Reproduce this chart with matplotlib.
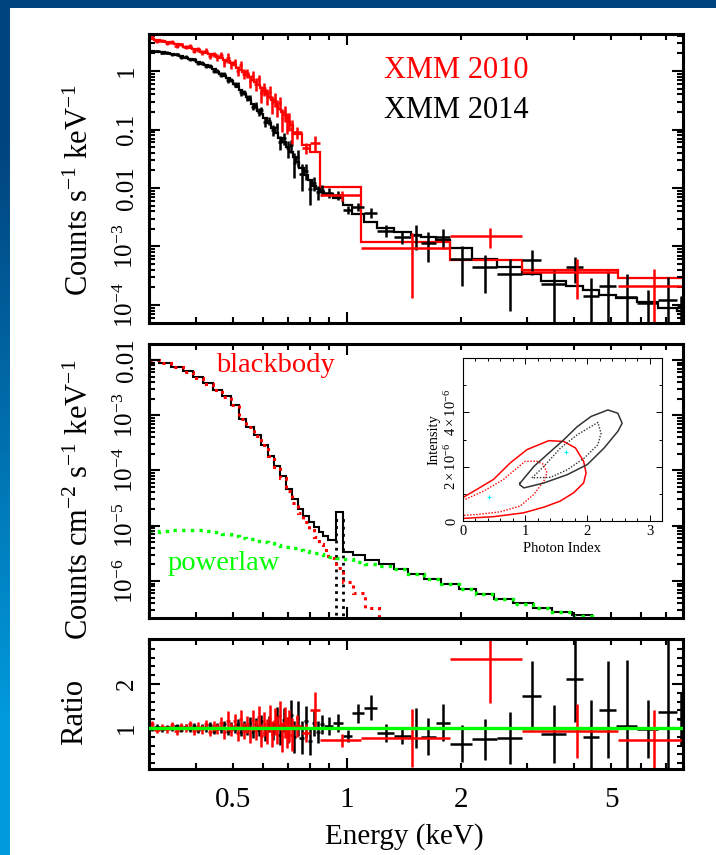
import numpy as np
import matplotlib
matplotlib.use("Agg")
import matplotlib.pyplot as plt
from matplotlib.ticker import LogLocator, NullFormatter, MultipleLocator
from matplotlib.colors import LinearSegmentedColormap
from matplotlib.patches import Rectangle

plt.rcParams['font.family'] = ['Liberation Serif', 'DejaVu Serif']
plt.rcParams['mathtext.fontset'] = 'custom'
plt.rcParams['mathtext.rm'] = 'Liberation Serif'
plt.rcParams['mathtext.it'] = 'Liberation Serif:italic'

RED = '#ff0000'
GREEN = '#00ff00'
CYAN = '#00ffff'

# ---------------- XMM 2014 (black): fine bins < 0.87 keV, wide bins above
b14_edges = [0.30, 0.31, 0.32, 0.33, 0.34, 0.35, 0.36, 0.37, 0.38, 0.39, 0.40,
             0.41, 0.42, 0.43, 0.44, 0.45, 0.46, 0.47, 0.48, 0.49, 0.50,
             0.51, 0.52, 0.53, 0.54, 0.55, 0.56, 0.57, 0.58, 0.59, 0.60,
             0.615, 0.63, 0.645, 0.66, 0.675, 0.69, 0.705, 0.72, 0.735, 0.75,
             0.77, 0.79, 0.81, 0.83, 0.85, 0.87,
             0.92, 0.98, 1.035, 1.11, 1.205, 1.33, 1.475, 1.57, 1.72, 1.88,
             2.15, 2.50, 2.90, 3.27, 3.80, 4.22, 4.65, 5.15, 5.85, 6.66, 7.48, 7.80]
b14_model = [2.2, 2.15, 2.1, 2.02, 1.95, 1.87, 1.79, 1.7, 1.61, 1.52,
             1.43, 1.34, 1.25, 1.16, 1.07, 0.98, 0.9, 0.82, 0.75, 0.68,
             0.61, 0.54, 0.47, 0.41, 0.36, 0.315, 0.275, 0.24, 0.21, 0.185,
             0.155, 0.128, 0.105, 0.087, 0.072, 0.06, 0.05, 0.041, 0.034, 0.028,
             0.022, 0.017, 0.0135, 0.011, 0.0095, 0.0085,
             7.9e-3, 6.8e-3, 5.2e-3, 3.6e-3, 2.6e-3, 2.1e-3, 1.75e-3, 1.6e-3,
             1.45e-3, 1.3e-3, 9.5e-4, 6.0e-4, 4.4e-4, 3.4e-4, 2.6e-4, 2.1e-4,
             1.8e-4, 1.5e-4, 1.3e-4, 1.1e-4, 9.0e-5, 8.0e-5]
b14_ratio = [0.98, 1.03, 0.97, 1.02, 0.99, 1.04, 0.96, 1.03, 0.98, 1.05,
             0.95, 1.02, 0.99, 1.06, 0.94, 1.04, 0.97, 1.08, 0.93, 1.05,
             0.98, 1.10, 0.92, 1.06, 0.96, 1.12, 0.90, 1.08, 0.95, 1.15,
             0.88, 1.10, 0.93, 1.25, 0.85, 1.18, 0.95, 1.30, 0.80, 1.22,
             0.78, 1.15, 0.70, 1.12, 0.90, 1.08,
             1.05, 1.12, 0.82, 1.33, 1.46, 0.89, 0.82, 1.00, 0.80, 1.12,
             0.64, 0.74, 0.77, 1.73, 0.86, 2.11, 0.79, 1.41, 1.05, 0.98, 1.37, 1.20]
b14_rerr = [0.05, 0.05, 0.05, 0.05, 0.05, 0.06, 0.06, 0.06, 0.06, 0.06,
            0.07, 0.07, 0.07, 0.07, 0.08, 0.08, 0.08, 0.09, 0.09, 0.09,
            0.10, 0.10, 0.11, 0.11, 0.12, 0.12, 0.13, 0.14, 0.14, 0.15,
            0.17, 0.18, 0.20, 0.22, 0.24, 0.27, 0.30, 0.33, 0.36, 0.40,
            0.38, 0.36, 0.32, 0.30, 0.25, 0.22,
            0.20, 0.20, 0.13, 0.22, 0.28, 0.20, 0.18, 0.45, 0.42, 0.42,
            0.42, 0.47, 0.59, 0.78, 0.66, 0.98, 0.84, 1.10, 1.50, 0.65, 2.00, 0.60]

# ---------------- XMM 2010 (red)
r10_edges = [0.30, 0.31, 0.32, 0.33, 0.34, 0.35, 0.36, 0.37, 0.38, 0.39, 0.40,
             0.41, 0.42, 0.43, 0.44, 0.45, 0.46, 0.47, 0.48, 0.49, 0.50,
             0.51, 0.52, 0.53, 0.54, 0.55, 0.56, 0.57, 0.58, 0.59, 0.60,
             0.61, 0.62, 0.63, 0.64, 0.65, 0.66, 0.67, 0.68, 0.69, 0.70,
             0.71, 0.72, 0.76, 0.80, 0.85, 1.09, 1.88, 2.91, 5.23, 7.80]
r10_model = [3.55, 3.4, 3.25, 3.1, 3.0, 2.88, 2.75, 2.62, 2.5, 2.38,
             2.27, 2.16, 2.05, 1.95, 1.85, 1.76, 1.67, 1.57, 1.46, 1.35,
             1.25, 1.15, 1.05, 0.96, 0.87, 0.79, 0.71, 0.64, 0.575, 0.515,
             0.46, 0.41, 0.365, 0.325, 0.29, 0.255, 0.225, 0.198, 0.175, 0.155,
             0.135, 0.118,
             0.085, 0.055, 0.042, 0.0105, 1.2e-3, 5.9e-4, 4.0e-4, 2.9e-4]
r10_ratio = [1.10, 0.95, 1.02, 0.97, 1.06, 0.93, 1.04, 0.99, 1.08, 0.94,
             1.03, 0.97, 1.09, 0.92, 1.05, 0.98, 1.12, 0.90, 1.16, 0.96,
             1.15, 0.88, 1.20, 0.93, 1.08, 0.85, 1.18, 0.95, 1.25, 0.82,
             1.10, 0.92, 1.22, 0.86, 1.15, 0.95, 1.28, 0.80, 1.12, 0.90,
             1.05, 0.85,
             1.05, 0.88, 1.40, 0.72, 0.77, 2.57, 0.93, 0.72]
r10_rerr = [0.07, 0.07, 0.07, 0.08, 0.08, 0.08, 0.08, 0.09, 0.09, 0.09,
            0.10, 0.10, 0.10, 0.11, 0.11, 0.12, 0.13, 0.14, 0.22, 0.15,
            0.16, 0.17, 0.20, 0.18, 0.19, 0.20, 0.22, 0.23, 0.25, 0.26,
            0.27, 0.28, 0.30, 0.30, 0.31, 0.32, 0.33, 0.34, 0.35, 0.35,
            0.36, 0.37,
            0.25, 0.20, 0.42, 0.14, 0.66, 1.00, 0.62, 0.68]

# ---------------- unfolded model components (photons cm^-2 s^-1 keV^-1)
mid_edges = [0.30, 0.318, 0.343, 0.368, 0.393, 0.418, 0.443, 0.468, 0.493, 0.518,
             0.543, 0.568, 0.593, 0.618, 0.643, 0.668, 0.693, 0.718, 0.743, 0.768,
             0.793, 0.818, 0.843, 0.868, 0.893, 0.935, 0.975, 1.04, 1.12, 1.22,
             1.33, 1.45, 1.6, 1.78, 1.98, 2.2, 2.45, 2.75, 3.1, 3.5,
             3.95, 4.45, 5.0]
mid_total = [1.0e-2, 8.8e-3, 7.6e-3, 6.2e-3, 4.9e-3, 3.8e-3, 2.9e-3, 2.2e-3, 1.55e-3, 8.7e-4,
             6.2e-4, 4.3e-4, 2.9e-4, 1.85e-4, 1.2e-4, 7.8e-5, 4.6e-5, 3.0e-5, 2.05e-5, 1.5e-5,
             1.18e-5, 9.5e-6, 7.8e-6, 6.6e-6, 5.5e-6, 1.8e-5, 3.4e-6, 2.9e-6, 2.4e-6, 2.0e-6,
             1.65e-6, 1.35e-6, 1.1e-6, 8.8e-7, 7.2e-7, 5.8e-7, 4.8e-7, 4.0e-7, 3.3e-7, 2.8e-7,
             2.4e-7, 2.0e-7]
mid_pl = [7.7e-6, 8.2e-6, 8.5e-6, 8.5e-6, 8.3e-6, 8.0e-6, 7.6e-6, 7.1e-6, 6.6e-6, 6.0e-6,
          5.7e-6, 5.4e-6, 5.1e-6, 4.8e-6, 4.5e-6, 4.3e-6, 4.1e-6, 3.9e-6, 3.7e-6, 3.5e-6,
          3.35e-6, 3.2e-6, 3.05e-6, 2.9e-6, 2.75e-6, 2.6e-6, 2.45e-6, 2.25e-6, 2.05e-6, 1.85e-6,
          1.62e-6, 1.33e-6, 1.09e-6, 8.7e-7, 7.1e-7, 5.7e-7, 4.7e-7, 3.9e-7, 3.25e-7, 2.75e-7,
          2.35e-7, 1.95e-7]
mid_bb = [9.9e-3, 8.7e-3, 7.5e-3, 6.1e-3, 4.8e-3, 3.7e-3, 2.85e-3, 2.15e-3, 1.55e-3, 8.6e-4,
          6.1e-4, 4.2e-4, 2.85e-4, 1.8e-4, 1.15e-4, 7.4e-5, 4.2e-5, 2.6e-5, 1.7e-5, 1.15e-5,
          8.5e-6, 6.3e-6, 4.7e-6, 3.6e-6, 2.6e-6, 1.7e-6, 9.5e-7, 6.0e-7, 3.2e-7, 1.6e-7]
line_edges = [0.893, 0.935, 0.975, 1.04]
line_vals = [1e-7, 1.25e-5, 1e-7]

# ---------------- inset confidence contours (intensity in units of 1e-6)
red68_x = [-0.05, 0.22, 0.49, 0.76, 1.03, 1.38, 1.62, 1.81, 1.94, 1.98, 1.94, 1.78, 1.56, 1.30, 0.97, 0.49, -0.05]
red68_y = [0.80, 1.16, 1.53, 2.14, 2.63, 2.96, 2.93, 2.69, 2.20, 1.77, 1.40, 1.04, 0.73, 0.51, 0.30, 0.16, 0.09]
red1s_x = [-0.05, 0.33, 0.65, 1.00, 1.19, 1.30, 1.35, 1.30, 1.14, 0.92, 0.60, 0.22, -0.05]
red1s_y = [0.71, 1.10, 1.53, 2.20, 2.20, 2.08, 1.77, 1.47, 0.98, 0.55, 0.34, 0.24, 0.20]
blk68_x = [0.92, 1.14, 1.35, 1.62, 1.84, 2.06, 2.33, 2.49, 2.56, 2.49, 2.27, 2.00, 1.68, 1.30, 0.98, 0.91, 0.92]
blk68_y = [1.40, 2.01, 2.44, 2.99, 3.48, 3.85, 4.09, 3.97, 3.60, 3.30, 2.69, 2.08, 1.71, 1.40, 1.22, 1.34, 1.40]
blk1s_x = [1.11, 1.30, 1.57, 1.84, 2.17, 2.22, 2.17, 1.95, 1.68, 1.41, 1.11]
blk1s_y = [1.59, 2.01, 2.69, 3.18, 3.63, 3.23, 2.81, 2.32, 1.89, 1.61, 1.59]
best_x = [0.42, 1.66]
best_y = [0.88, 2.56]


def bin_centres(edges):
    e = np.asarray(edges)
    return 0.5 * (e[1:] + e[:-1]), 0.5 * (e[1:] - e[:-1])


fig = plt.figure(figsize=(7.16, 8.55), dpi=100)

# slide background strips
cmap_bg = LinearSegmentedColormap.from_list('bg', ['#00447f', '#0099da'])
ax_bg = fig.add_axes([0, 0, 10 / 716, 1])
ax_bg.imshow([[0.0], [0.5], [1.0]], cmap=cmap_bg, aspect='auto', interpolation='bilinear')
ax_bg.axis('off')
fig.add_artist(Rectangle((0, 1 - 8 / 855), 1, 8 / 855, transform=fig.transFigure,
                         color='#00447f', lw=0))

ax1 = fig.add_axes([0.2081, 0.6222, 0.7458, 0.3380])
ax2 = fig.add_axes([0.2081, 0.2772, 0.7458, 0.3205])
ax3 = fig.add_axes([0.2081, 0.1006, 0.7458, 0.1520])

xminor = [0.3, 0.4, 0.5, 0.6, 0.7, 0.8, 0.9, 2, 3, 4, 5, 6, 7]
xminor_lab = ['', '', '0.5', '', '', '', '', '2', '', '', '5', '', '']

for ax in (ax1, ax2, ax3):
    ax.set_xscale('log')
    ax.set_xlim(0.3, 7.75)
    last = ax is ax3
    ax.set_xticks([1], labels=['1' if last else ''])
    ax.set_xticks(xminor, labels=xminor_lab if last else [''] * len(xminor), minor=True)
    for s in ax.spines.values():
        s.set_linewidth(2.2)
    ax.tick_params(which='both', direction='in', top=True, right=True, width=1.5)
    ax.tick_params(which='major', length=8)
    ax.tick_params(which='minor', length=4)
    ax.tick_params(axis='x', which='both', labelsize=21, pad=13)
    ax.tick_params(axis='y', which='both', labelsize=18, pad=8)

# ---- top: count spectra
b_c, b_hw = bin_centres(b14_edges)
b_data = np.array(b14_model) * np.array(b14_ratio)
b_err = np.array(b14_model) * np.array(b14_rerr)
r_c, r_hw = bin_centres(r10_edges)
r_data = np.array(r10_model) * np.array(r10_ratio)
r_err = np.array(r10_model) * np.array(r10_rerr)

ax1.set_yscale('log')
ax1.set_ylim(4.9e-5, 4.3)
ax1.errorbar(b_c, b_data, xerr=b_hw, yerr=b_err, fmt='none', ecolor='black', elinewidth=1.8)
ax1.stairs(b14_model, b14_edges, baseline=None, color='black', lw=1.6)
ax1.errorbar(r_c, r_data, xerr=r_hw, yerr=r_err, fmt='none', ecolor=RED, elinewidth=1.8)
ax1.stairs(r10_model, r10_edges, baseline=None, color=RED, lw=1.6)
ax1.set_yticks([1e-4, 1e-3, 1e-2, 0.1, 1],
               labels=[r'$10^{-4}$', r'$10^{-3}$', '0.01', '0.1', '1'])
ax1.text(0.575, 0.875, 'XMM 2010', color=RED, fontsize=22, ha='center', va='center',
         transform=ax1.transAxes)
ax1.text(0.575, 0.737, 'XMM 2014', color='black', fontsize=22, ha='center', va='center',
         transform=ax1.transAxes)
ax1.set_ylabel(r'Counts s$^{-1}$ keV$^{-1}$', fontsize=22)
ax1.yaxis.set_label_coords(-0.102, 0.46)

# ---- middle: unfolded model
ax2.set_yscale('log')
ax2.set_ylim(2.14e-7, 0.0195)
ax2.stairs(mid_total, mid_edges, baseline=None, color='black', lw=1.5)
ax2.stairs(line_vals, line_edges, baseline=None, color='black', lw=2.0, ls=(0, (1, 1.6)))
ax2.stairs(mid_bb, mid_edges[:len(mid_bb) + 1], baseline=None, color=RED, lw=2.2,
           ls=(0, (1, 1.6)))
ax2.stairs(mid_pl, mid_edges, baseline=None, color=GREEN, lw=2.4, ls=(0, (1, 1.6)))
ax2.set_yticks([1e-6, 1e-5, 1e-4, 1e-3, 1e-2],
               labels=[r'$10^{-6}$', r'$10^{-5}$', r'$10^{-4}$', r'$10^{-3}$', '0.01'])
ax2.text(0.236, 0.920, 'blackbody', color=RED, fontsize=20.5, ha='center', va='center',
         transform=ax2.transAxes)
ax2.text(0.139, 0.200, 'powerlaw', color=GREEN, fontsize=20.5, ha='center', va='center',
         transform=ax2.transAxes)
ax2.set_ylabel(r'Counts cm$^{-2}$ s$^{-1}$ keV$^{-1}$', fontsize=22)
ax2.yaxis.set_label_coords(-0.102, 0.43)

for ax in (ax1, ax2):
    ax.yaxis.set_minor_locator(LogLocator(base=10.0, subs=[2, 3, 4, 5, 6, 7, 8, 9], numticks=40))
    ax.yaxis.set_minor_formatter(NullFormatter())

# ---- bottom: ratio
ax3.set_ylim(0.07, 3.02)
ax3.errorbar(b_c, b14_ratio, xerr=b_hw, yerr=b14_rerr, fmt='none', ecolor='black', elinewidth=1.8)
ax3.errorbar(r_c, r10_ratio, xerr=r_hw, yerr=r10_rerr, fmt='none', ecolor=RED, elinewidth=1.8)
ax3.axhline(1.0, color=GREEN, lw=2.4, zorder=5)
ax3.set_yticks([1, 2], labels=['1', '2'])
ax3.yaxis.set_minor_locator(MultipleLocator(0.2))
ax3.set_ylabel('Ratio', fontsize=22)
ax3.yaxis.set_label_coords(-0.112, 0.44)
ax3.set_xlabel('Energy (keV)', fontsize=21)
ax3.xaxis.set_label_coords(0.479, -0.415)

for ax in (ax1, ax2, ax3):
    for t in ax.get_yticklabels():
        t.set_rotation(90)
        t.set_va('center')

# ---- inset: contours
axin = fig.add_axes([0.6466, 0.3906, 0.2779, 0.1906])
axin.set_facecolor('white')
axin.plot(red68_x, red68_y, color=RED, lw=1.1)
axin.plot(red1s_x, red1s_y, color=RED, lw=1.0, ls=(0, (1, 1.2)))
axin.plot(blk68_x, blk68_y, color='#333333', lw=1.1)
axin.plot(blk1s_x, blk1s_y, color='#333333', lw=1.0, ls=(0, (1, 1.2)))
axin.plot(best_x, best_y, ls='none', marker='+', ms=3, mew=0.8, color=CYAN)
axin.set_xlim(0, 3.2)
axin.set_ylim(0, 6)
axin.set_xticks([0, 1, 2, 3])
axin.xaxis.set_minor_locator(MultipleLocator(0.2))
axin.set_yticks([0, 2, 4], labels=['0', r'$2\times10^{-6}$', r'$4\times10^{-6}$'])
axin.yaxis.set_minor_locator(MultipleLocator(1))
for s in axin.spines.values():
    s.set_linewidth(0.8)
axin.tick_params(which='both', direction='in', top=True, right=True, width=0.7,
                 labelsize=10.5, pad=3)
axin.tick_params(which='major', length=4)
axin.tick_params(which='minor', length=2)
for t in axin.get_yticklabels():
    t.set_rotation(90)
    t.set_va('center')
axin.set_xlabel('Photon Index', fontsize=10.5, labelpad=3)
axin.set_ylabel('Intensity', fontsize=10.5, labelpad=2)

fig.savefig('out.png', dpi=100)
plt.close(fig)
